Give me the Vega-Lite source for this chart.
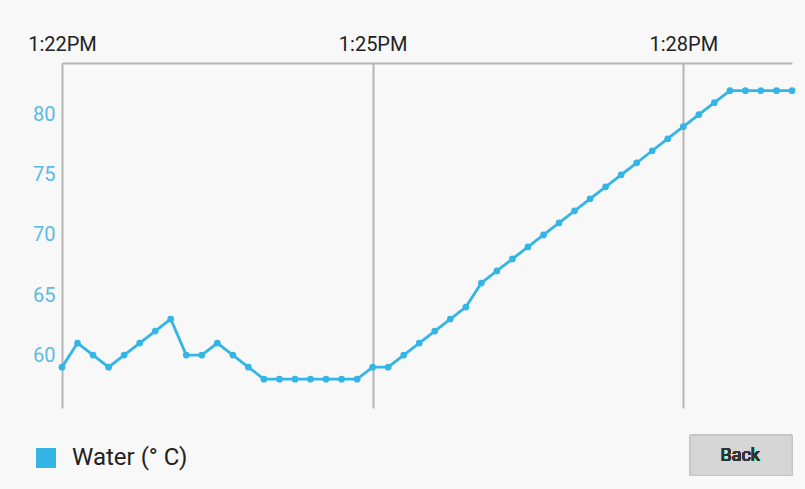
{
  "$schema": "https://vega.github.io/schema/vega-lite/v6.json",
  "width": 730,
  "height": 345,
  "autosize": {"type": "none"},
  "padding": {"left": 62, "top": 63, "right": 13, "bottom": 81},
  "background": "#f8f8f8",
  "config": {
    "view": {"stroke": null},
    "font": "Roboto"
  },
  "data": {
    "values": [
      {"time": "2024-01-01T13:22:00", "temp": 59, "series": "Water (° C)"},
      {"time": "2024-01-01T13:22:09", "temp": 61, "series": "Water (° C)"},
      {"time": "2024-01-01T13:22:18", "temp": 60, "series": "Water (° C)"},
      {"time": "2024-01-01T13:22:27", "temp": 59, "series": "Water (° C)"},
      {"time": "2024-01-01T13:22:36", "temp": 60, "series": "Water (° C)"},
      {"time": "2024-01-01T13:22:45", "temp": 61, "series": "Water (° C)"},
      {"time": "2024-01-01T13:22:54", "temp": 62, "series": "Water (° C)"},
      {"time": "2024-01-01T13:23:03", "temp": 63, "series": "Water (° C)"},
      {"time": "2024-01-01T13:23:12", "temp": 60, "series": "Water (° C)"},
      {"time": "2024-01-01T13:23:21", "temp": 60, "series": "Water (° C)"},
      {"time": "2024-01-01T13:23:30", "temp": 61, "series": "Water (° C)"},
      {"time": "2024-01-01T13:23:39", "temp": 60, "series": "Water (° C)"},
      {"time": "2024-01-01T13:23:48", "temp": 59, "series": "Water (° C)"},
      {"time": "2024-01-01T13:23:57", "temp": 58, "series": "Water (° C)"},
      {"time": "2024-01-01T13:24:06", "temp": 58, "series": "Water (° C)"},
      {"time": "2024-01-01T13:24:15", "temp": 58, "series": "Water (° C)"},
      {"time": "2024-01-01T13:24:24", "temp": 58, "series": "Water (° C)"},
      {"time": "2024-01-01T13:24:33", "temp": 58, "series": "Water (° C)"},
      {"time": "2024-01-01T13:24:42", "temp": 58, "series": "Water (° C)"},
      {"time": "2024-01-01T13:24:51", "temp": 58, "series": "Water (° C)"},
      {"time": "2024-01-01T13:25:00", "temp": 59, "series": "Water (° C)"},
      {"time": "2024-01-01T13:25:09", "temp": 59, "series": "Water (° C)"},
      {"time": "2024-01-01T13:25:18", "temp": 60, "series": "Water (° C)"},
      {"time": "2024-01-01T13:25:27", "temp": 61, "series": "Water (° C)"},
      {"time": "2024-01-01T13:25:36", "temp": 62, "series": "Water (° C)"},
      {"time": "2024-01-01T13:25:45", "temp": 63, "series": "Water (° C)"},
      {"time": "2024-01-01T13:25:54", "temp": 64, "series": "Water (° C)"},
      {"time": "2024-01-01T13:26:03", "temp": 66, "series": "Water (° C)"},
      {"time": "2024-01-01T13:26:12", "temp": 67, "series": "Water (° C)"},
      {"time": "2024-01-01T13:26:21", "temp": 68, "series": "Water (° C)"},
      {"time": "2024-01-01T13:26:30", "temp": 69, "series": "Water (° C)"},
      {"time": "2024-01-01T13:26:39", "temp": 70, "series": "Water (° C)"},
      {"time": "2024-01-01T13:26:48", "temp": 71, "series": "Water (° C)"},
      {"time": "2024-01-01T13:26:57", "temp": 72, "series": "Water (° C)"},
      {"time": "2024-01-01T13:27:06", "temp": 73, "series": "Water (° C)"},
      {"time": "2024-01-01T13:27:15", "temp": 74, "series": "Water (° C)"},
      {"time": "2024-01-01T13:27:24", "temp": 75, "series": "Water (° C)"},
      {"time": "2024-01-01T13:27:33", "temp": 76, "series": "Water (° C)"},
      {"time": "2024-01-01T13:27:42", "temp": 77, "series": "Water (° C)"},
      {"time": "2024-01-01T13:27:51", "temp": 78, "series": "Water (° C)"},
      {"time": "2024-01-01T13:28:00", "temp": 79, "series": "Water (° C)"},
      {"time": "2024-01-01T13:28:09", "temp": 80, "series": "Water (° C)"},
      {"time": "2024-01-01T13:28:18", "temp": 81, "series": "Water (° C)"},
      {"time": "2024-01-01T13:28:27", "temp": 82, "series": "Water (° C)"},
      {"time": "2024-01-01T13:28:36", "temp": 82, "series": "Water (° C)"},
      {"time": "2024-01-01T13:28:45", "temp": 82, "series": "Water (° C)"},
      {"time": "2024-01-01T13:28:54", "temp": 82, "series": "Water (° C)"},
      {"time": "2024-01-01T13:29:03", "temp": 82, "series": "Water (° C)"}
    ]
  },
  "layer": [
    {
      "mark": {"type": "line", "strokeWidth": 2.8, "point": {"filled": true, "size": 45}},
      "encoding": {
        "x": {
          "field": "time",
          "type": "temporal",
          "scale": {
            "domain": [
              {"year": 2024, "month": 1, "date": 1, "hours": 13, "minutes": 22, "seconds": 0},
              {"year": 2024, "month": 1, "date": 1, "hours": 13, "minutes": 29, "seconds": 3}
            ],
            "nice": false
          },
          "axis": {
            "orient": "top",
            "title": null,
            "values": [
              {"year": 2024, "month": 1, "date": 1, "hours": 13, "minutes": 22},
              {"year": 2024, "month": 1, "date": 1, "hours": 13, "minutes": 25},
              {"year": 2024, "month": 1, "date": 1, "hours": 13, "minutes": 28}
            ],
            "format": "%-I:%M%p",
            "ticks": false,
            "labelPadding": 9,
            "labelFontSize": 20,
            "labelColor": "#222222",
            "labelFont": "Roboto",
            "domainColor": "#b5b5b5",
            "domainWidth": 2,
            "grid": true,
            "gridColor": "#b5b5b5",
            "gridWidth": 2,
            "gridOpacity": 1,
            "labelFlush": false,
            "labelOverlap": false
          }
        },
        "y": {
          "field": "temp",
          "type": "quantitative",
          "scale": {"domain": [55.6, 84.3], "nice": false, "zero": false},
          "axis": {
            "title": null,
            "values": [60, 65, 70, 75, 80],
            "domain": false,
            "ticks": false,
            "grid": false,
            "labelPadding": 7,
            "labelFontSize": 20,
            "labelColor": "#5bbbe3",
            "labelFont": "Roboto"
          }
        },
        "color": {
          "field": "series",
          "type": "nominal",
          "scale": {"range": ["#33b5e5"]},
          "legend": {
            "title": null,
            "orient": "none",
            "legendX": -28,
            "legendY": 383,
            "symbolType": "square",
            "symbolSize": 400,
            "symbolStrokeWidth": 0,
            "symbolFillColor": "#33b5e5",
            "labelFontSize": 24,
            "labelColor": "#222222",
            "labelFont": "Roboto",
            "labelOffset": 14
          }
        }
      }
    },
    {
      "mark": {"type": "rect", "fill": "#d6d6d6", "stroke": "#c4c4c4", "strokeWidth": 1},
      "encoding": {
        "x": {"datum": {"year": 2024, "month": 1, "date": 1, "hours": 13, "minutes": 28, "seconds": 4}, "type": "temporal"},
        "x2": {"datum": {"year": 2024, "month": 1, "date": 1, "hours": 13, "minutes": 29, "seconds": 3}},
        "y": {"datum": 53.33, "type": "quantitative"},
        "y2": {"datum": 50.0}
      }
    },
    {
      "mark": {"type": "text", "text": "Back", "fontSize": 18, "font": "Roboto", "fontWeight": "normal", "color": "#333333"},
      "encoding": {
        "x": {"datum": {"year": 2024, "month": 1, "date": 1, "hours": 13, "minutes": 28, "seconds": 33}, "type": "temporal"},
        "y": {"datum": 51.6, "type": "quantitative"}
      }
    }
  ]
}
